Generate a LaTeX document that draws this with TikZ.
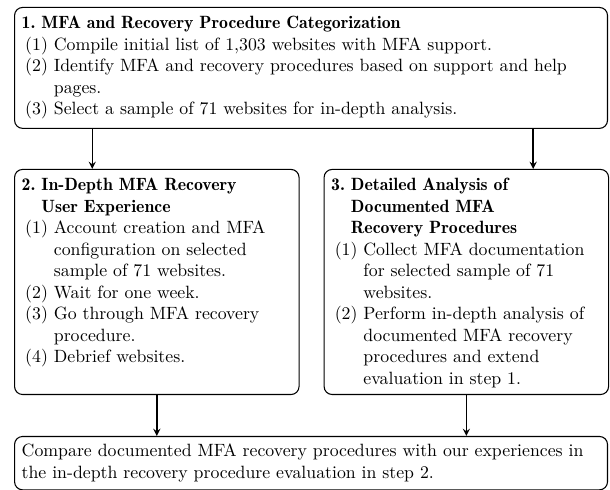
\documentclass[tikz,border=0pt]{standalone}
\usepackage{tikz}
\usetikzlibrary{arrows, positioning}

\newcommand{\steptitle}[2]{\par\noindent\setbox0=\hbox{\fontseries{b}\selectfont #1\ }\hangindent=\wd0 \hangafter=1 \box0{\fontseries{b}\selectfont #2}\par}
\newcommand{\stepitem}[2]{\par\noindent\setbox0=\hbox{\kern2pt #1\ }\hangindent=\wd0 \hangafter=1 \box0 #2\par}
\newcommand{\stepbody}[3]{\parbox[t][#2][t]{#1}{\raggedright\vspace*{5pt}#3}}

\begin{document}
\begin{tikzpicture}[
    stepbox/.style={rectangle, rounded corners=4.5pt, draw=black, line width=0.6pt, inner xsep=4pt, inner ysep=0pt, font=\fontsize{10pt}{12.1pt}\selectfont},
    arrow/.style={thick,->,>=stealth}
]
\useasboundingbox (0,0) rectangle (343.1pt,-275.1pt);

% Step 1
\node (catbox) [stepbox, anchor=north west] at (7.9pt,-3.9pt) {\stepbody{325.5pt}{68pt}{%
  \steptitle{1.}{MFA and Recovery Procedure Categorization}
  \stepitem{(1)}{Compile initial list of 1,303 websites with MFA support.}
  \stepitem{(2)}{Identify MFA and recovery procedures based on support and help\newline pages.}
  \stepitem{(3)}{Select a sample of 71 websites for in-depth analysis.}}};

% Steps 2 and 3
\node (userbox) [stepbox, below=22.5pt of catbox.south west, anchor=north west] {\stepbody{152pt}{126.6pt}{%
  \steptitle{2.}{In-Depth MFA Recovery\newline User Experience}
  \stepitem{(1)}{Account creation and MFA\newline configuration on selected\newline sample of 71 websites.}
  \stepitem{(2)}{Wait for one week.}
  \stepitem{(3)}{Go through MFA recovery\newline procedure.}
  \stepitem{(4)}{Debrief websites.}}};
\node (docbox) [stepbox, right=13.5pt of userbox.north east, anchor=north west] {\stepbody{152pt}{126.6pt}{%
  \steptitle{3.}{Detailed Analysis of\newline Documented MFA\newline Recovery Procedures}
  \stepitem{(1)}{Collect MFA documentation\newline for selected sample of 71\newline websites.}
  \stepitem{(2)}{Perform in-depth analysis of\newline documented MFA recovery\newline procedures and extend\newline evaluation in step 1.}}};

% Comparison
\node (cmpbox) [stepbox, below=23pt of userbox.south west, anchor=north west] {\parbox[t][30pt][c]{325.5pt}{\raggedright
  Compare documented MFA recovery procedures with our experiences in\newline the in-depth recovery procedure evaluation in step 2.}};

% Arrows
\draw [arrow] ([xshift=44pt]userbox.north west |- catbox.south) -- ([xshift=44pt]userbox.north west);
\draw [arrow] ([xshift=-42.7pt]docbox.north east |- catbox.south) -- ([xshift=-42.7pt]docbox.north east);
\draw [arrow] (userbox.south) -- (userbox.south |- cmpbox.north);
\draw [arrow] (docbox.south) -- (docbox.south |- cmpbox.north);

\end{tikzpicture}
\end{document}
